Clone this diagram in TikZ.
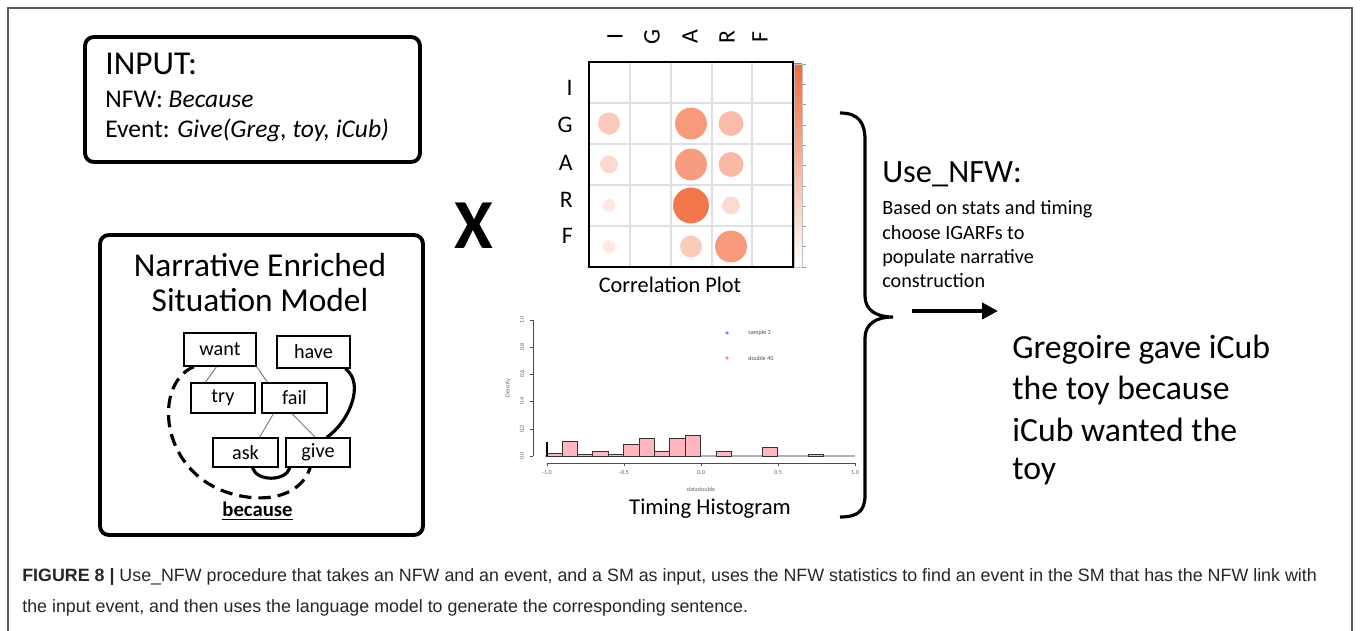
\documentclass[tikz,border=0pt]{standalone}
\usepackage{fontspec}
\setmainfont{Carlito}
\newfontfamily\capfont{Liberation Sans}
\usepackage{tikz}
\usetikzlibrary{positioning, arrows.meta}
\definecolor{corr}{HTML}{F26B3D}
\definecolor{histpink}{HTML}{FFB6BE}
\definecolor{framegray}{HTML}{5A5A5A}

\begin{document}
\begin{tikzpicture}[x=0.02cm, y=-0.02cm,
    panel/.style={draw, line width=2.2pt, rounded corners=5pt},
    evt/.style={draw, line width=0.8pt, minimum height=0.6cm, inner sep=0pt, font=\fontsize{11.5}{13}\selectfont},
    tree/.style={draw=black!55, line width=0.5pt},
    bond/.style={line width=1.8pt},
    txt/.style={inner sep=0pt, align=left},
    axlab/.style={inner sep=0pt, font=\fontsize{3.5}{4}\selectfont, text=black!60},
    letter/.style={inner sep=0pt, font=\fontsize{13.5}{14}\selectfont},
    bar/.style={draw=black!80, fill=histpink, line width=0.5pt},
]
\useasboundingbox (0,0) rectangle (1360,631);
\draw[framegray, line width=0.8pt] (8,631) -- (8,8) -- (1352,8) -- (1352,631);

% input box
\node[panel, minimum width=6.7cm, minimum height=2.5cm] (inbox) at (252.5,99.5) {};
\node[txt, anchor=base west, font=\fontsize{19}{21}\selectfont] (intitle) at (105,75) {INPUT:};
\node[txt, anchor=base west, font=\fontsize{14.5}{17}\selectfont] (nfw) at (105,108) {NFW: \textit{Because}};
\node[txt, anchor=base west, font=\fontsize{14.5}{17}\selectfont] (event) at (105,138) {Event: \textit{Give(Greg, toy, iCub)}};

% situation model
\node[panel, minimum width=6.46cm, minimum height=6cm] (smbox) at (261.5,385) {};
\node[inner sep=0pt, anchor=base, font=\fontsize{19}{21}\selectfont] (smt1) at (260,277) {Narrative Enriched};
\node[inner sep=0pt, anchor=base, font=\fontsize{19}{21}\selectfont] (smt2) at (260,312) {Situation Model};

\node[evt, minimum width=1.44cm, minimum height=0.66cm] (want) at (220,349.5) {want};
\node[evt, minimum width=1.46cm, minimum height=0.64cm] (have) at (313.5,352) {have};
\node[evt, minimum width=1.28cm] (try) at (223,398) {try};
\node[evt, minimum width=1.3cm] (fail) at (294.5,398) {fail};
\node[evt, minimum width=1.3cm, minimum height=0.58cm] (ask) at (245.5,452.5) {ask};
\node[evt, minimum width=1.28cm, minimum height=0.58cm] (give) at (318,452.5) {give};

\draw[tree] ([xshift=-2pt]want.south) -- ([xshift=-10pt]try.north);
\draw[tree] (want.south east) -- ([xshift=3.5pt]fail.north west);
\draw[tree] ([xshift=-12pt]fail.south) -- ([xshift=8pt]ask.north);
\draw[tree] ([xshift=-1.5pt]fail.south) -- ([xshift=-1.5pt]give.north);

\draw[bond] ([xshift=-3pt]have.south east) .. controls +(20,15) and +(22,-15) .. ([xshift=5pt]give.north);
\draw[bond] ([xshift=4pt]ask.south) .. controls +(4,14) and +(-4,14) .. ([xshift=-16pt]give.south);
\draw[bond, dashed, dash pattern=on 7pt off 4pt] ([xshift=6pt]want.south west)
    .. controls (150,385) and (160,485) .. (247,497)
    .. controls (285,502) and (305,485) .. ([xshift=-4.5pt]give.south);
\node[inner sep=0pt, anchor=base, font=\fontsize{11.8}{13}\selectfont\bfseries] (because) at (257.5,517) {\underline{because}};

% the X
\node[inner sep=0pt, font=\fontsize{40}{44}\selectfont\bfseries] (times) at (474,226) {X};

% correlation plot
\foreach \gx in {630,671,712,752} \draw[black!12, line width=0.6pt] (\gx,62) -- (\gx,267);
\foreach \gy in {103,144,185,226} \draw[black!12, line width=0.6pt] (589,\gy) -- (793,\gy);
\foreach \cx/\cy/\r/\p in {609/123.5/11/35, 691/123.5/16/68, 731/123.5/12.5/45,
    609/164.5/9/25, 691/164.5/16/66, 731/164.5/12.5/47,
    609/205.5/6.5/15, 691/205.5/18/92, 731/205.5/9/25,
    609/246.5/6.5/15, 691/246.5/11/35, 731/246.5/16/68}
  \fill[corr!\p!white] (\cx,\cy) circle[radius=\r*0.567pt];
\draw[black, line width=0.9pt] (589,62) rectangle (793,267);
\shade[top color=corr, middle color=corr!45!white, bottom color=white, draw=black!25, line width=0.3pt] (794,64) rectangle (802,267);
\foreach \ty in {0,...,10} \draw[black!40, line width=0.3pt] (803,64+\ty*20.3) -- (806,64+\ty*20.3);
\foreach \lab/\lx in {I/615, G/652, A/690, R/727, F/760}
  \node[letter, rotate=90] (col\lab) at (\lx,37) {\lab};
\foreach \lab/\ly in {I/88, G/125, A/163, R/200, F/236}
  \node[letter, anchor=east] (row\lab) at (573,\ly) {\lab};
\node[inner sep=0pt, anchor=base, font=\fontsize{12.7}{14}\selectfont] (corrcap) at (670,293) {Correlation Plot};

% timing histogram
\draw[black!70, line width=0.4pt] (533,320) -- (533,456);
\foreach \v/\ty in {1.0/320, 0.8/347, 0.6/374, 0.4/401, 0.2/429, 0.0/456} {
  \draw[black!70, line width=0.4pt] (530,\ty) -- (533,\ty);
  \node[axlab, rotate=90] at (522,\ty) {\v};
}
\node[axlab, rotate=90] (dens) at (508,388) {Density};
\draw[black!70, line width=0.4pt] (547,463) -- (855,463);
\foreach \v/\tx in {-1.0/547, -0.5/624, 0.0/701, 0.5/778, 1.0/855} {
  \draw[black!70, line width=0.4pt] (\tx,463) -- (\tx,466);
  \node[axlab] at (\tx,473) {\v};
}
\node[axlab] (xlab) at (701,489) {datadouble};
\draw[black!30, line width=0.6pt] (545,456) -- (855,456);
\foreach \b/\h in {0/2.7, 1/14.3, 2/2, 3/5, 4/2, 5/11.6, 6/18, 7/5, 8/18, 9/20.7, 11/5, 14/9, 17/2}
  \draw[bar] (546.7+\b*15.4,456) rectangle (546.7+\b*15.4+15.4,456-\h);
\draw[black, line width=0.8pt] (547,442) -- (547,456);
\fill[blue!50] (727,333) circle[radius=1pt];
\node[axlab, anchor=west, text=black!70] (leg1) at (748,333) {sample 3};
\fill[red!45] (727,358) circle[radius=1pt];
\node[axlab, anchor=west, text=black!70] (leg2) at (748,358) {double 40};
\node[inner sep=0pt, anchor=base, font=\fontsize{12.9}{14}\selectfont] (histcap) at (710,515) {Timing Histogram};

% brace and arrow
\coordinate (brtop) at (840,113);
\coordinate (brtip) at (893,317);
\coordinate (brbot) at (840,517);
\draw[line width=1.8pt] (brtop) .. controls (858,113) and (865,122) .. (865,140) -- (865,296)
    .. controls (865,310) and (876,317) .. (brtip)
    .. controls (876,317) and (865,324) .. (865,338) -- (865,495)
    .. controls (865,511) and (858,517) .. (brbot);
\coordinate (arrS) at (912,311);
\coordinate (arrE) at (998,311);
\draw[line width=2.2pt, -{Triangle[length=9pt, width=9pt]}] (arrS) -- (arrE);

\node[txt, anchor=base west, font=\fontsize{18.5}{21}\selectfont] (usenfw) at (882,183) {Use\_NFW:};
\node[txt, anchor=base west, font=\fontsize{11.5}{13.9}\selectfont] (step1) at (882,215) {Based on stats and timing};
\node[txt, anchor=base west, font=\fontsize{11.5}{13.9}\selectfont] (step2) at (882,239.5) {choose IGARFs to};
\node[txt, anchor=base west, font=\fontsize{11.5}{13.9}\selectfont] (step3) at (882,264) {populate narrative};
\node[txt, anchor=base west, font=\fontsize{11.5}{13.9}\selectfont] (step4) at (882,288) {construction};

\node[txt, anchor=base west, font=\fontsize{19.2}{23.4}\selectfont] (out1) at (1012,359) {Gregoire gave iCub};
\node[txt, anchor=base west, font=\fontsize{19.2}{23.4}\selectfont] (out2) at (1012,400) {the toy because};
\node[txt, anchor=base west, font=\fontsize{19.2}{23.4}\selectfont] (out3) at (1012,442) {iCub wanted the};
\node[txt, anchor=base west, font=\fontsize{19.2}{23.4}\selectfont] (out4) at (1012,480) {toy};

% caption
\node[txt, anchor=base west, font=\capfont\fontsize{10.15}{17}\selectfont, text=black!85] (cap1) at (22,582)
  {\textbf{FIGURE 8 |} Use\_NFW procedure that takes an NFW and an event, and a SM as input, uses the NFW statistics to find an event in the SM that has the NFW link with};
\node[txt, anchor=base west, font=\capfont\fontsize{10.15}{17}\selectfont, text=black!85] (cap2) at (22,612)
  {the input event, and then uses the language model to generate the corresponding sentence.};
\end{tikzpicture}
\end{document}
